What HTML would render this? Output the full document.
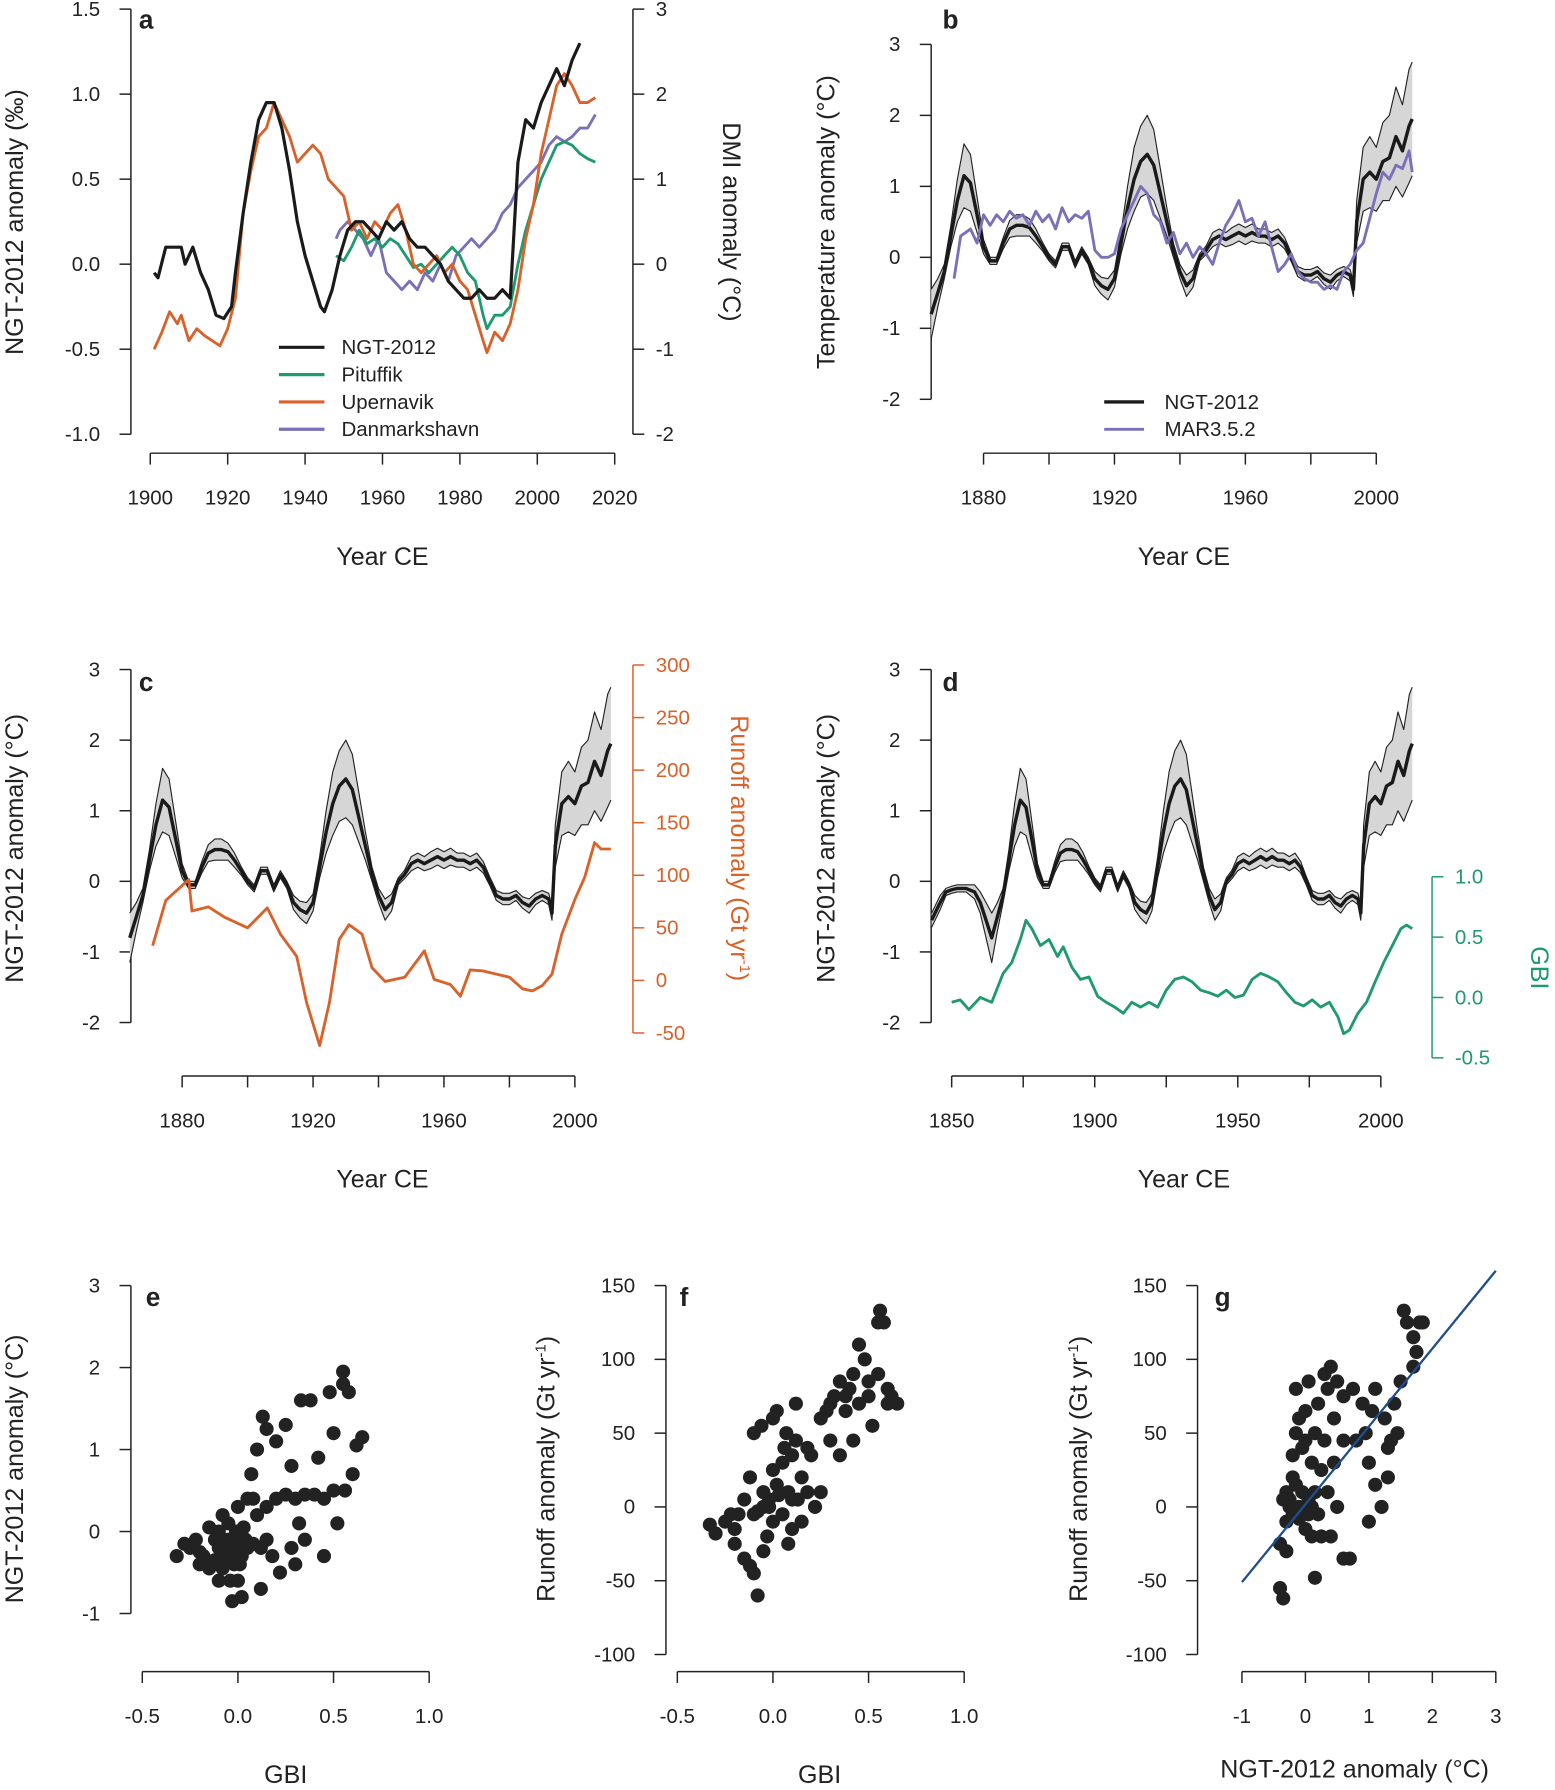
<!DOCTYPE html>
<html><head><meta charset="utf-8"><style>
html,body{margin:0;padding:0;background:#fff}
svg{display:block;font-family:"Liberation Sans",Arial,sans-serif}
</style></head><body>
<svg id="fig" width="1555" height="1790" viewBox="0 0 1366 1572" preserveAspectRatio="none" xmlns="http://www.w3.org/2000/svg"></svg>
<script>
// ---------- DATA ----------
const ngtYears=[1843,1846,1848,1850,1852,1855,1858,1860,1862,1864,1866,1868,1870,1872,1874,1876,1878,1880,1882,1884,1886,1888,1890,1892,1894,1896,1898,1900,1902,1904,1906,1908,1910,1912,1914,1916,1918,1920,1922,1924,1926,1928,1930,1932,1934,1936,1938,1940,1942,1944,1946,1948,1950,1952,1954,1956,1958,1960,1962,1964,1966,1968,1970,1972,1974,1976,1978,1980,1982,1984,1986,1988,1990,1992,1993,1994,1996,1998,2000,2002,2004,2006,2008,2010,2011];
const ngtTemp=[-0.55,-0.3,-0.15,-0.12,-0.1,-0.1,-0.15,-0.3,-0.55,-0.8,-0.5,-0.2,0.3,0.8,1.15,1.05,0.6,0.15,-0.05,-0.05,0.2,0.4,0.45,0.45,0.42,0.3,0.15,0.0,-0.1,0.15,0.15,-0.1,0.1,-0.05,-0.3,-0.4,-0.45,-0.3,0.2,0.7,1.1,1.35,1.45,1.3,0.9,0.5,0.1,-0.2,-0.4,-0.3,0.0,0.1,0.25,0.3,0.25,0.3,0.35,0.3,0.35,0.3,0.3,0.25,0.3,0.2,0.0,-0.2,-0.25,-0.25,-0.2,-0.3,-0.35,-0.25,-0.2,-0.25,-0.45,0.5,1.1,1.2,1.1,1.35,1.4,1.7,1.5,1.85,1.95];
const ngtHalfWidth=[0.1,0.1,0.05,0.05,0.05,0.05,0.1,0.15,0.25,0.35,0.2,0.1,0.15,0.3,0.45,0.4,0.25,0.1,0.05,0.05,0.08,0.12,0.15,0.15,0.12,0.1,0.06,0.05,0.05,0.05,0.05,0.05,0.05,0.05,0.1,0.12,0.15,0.12,0.15,0.3,0.45,0.5,0.55,0.5,0.35,0.2,0.1,0.1,0.15,0.12,0.05,0.06,0.1,0.1,0.1,0.12,0.12,0.12,0.12,0.1,0.1,0.1,0.1,0.08,0.06,0.07,0.08,0.08,0.07,0.08,0.1,0.08,0.07,0.08,0.1,0.3,0.45,0.5,0.45,0.55,0.6,0.7,0.65,0.8,0.8];

const marYears=[1871,1873,1876,1878,1880,1882,1884,1886,1888,1890,1892,1894,1896,1898,1900,1902,1904,1906,1908,1910,1912,1914,1916,1918,1920,1922,1924,1926,1928,1930,1932,1934,1936,1938,1940,1942,1944,1946,1948,1950,1952,1954,1956,1958,1960,1962,1964,1966,1968,1970,1972,1974,1976,1978,1980,1982,1984,1986,1988,1990,1992,1994,1996,1998,2000,2002,2004,2006,2008,2010,2011];
const marTemp=[-0.3,0.3,0.4,0.2,0.6,0.45,0.6,0.5,0.65,0.55,0.6,0.45,0.65,0.5,0.6,0.4,0.7,0.5,0.6,0.55,0.65,0.1,0.0,0.0,0.05,0.4,0.6,0.8,1.0,0.9,0.6,0.5,0.2,0.35,0.05,0.2,0.0,0.15,0.05,-0.1,0.2,0.45,0.6,0.8,0.5,0.55,0.3,0.5,0.15,-0.2,-0.1,0.05,-0.2,-0.3,-0.35,-0.35,-0.45,-0.4,-0.45,-0.2,-0.1,0.1,0.2,0.55,0.9,1.2,1.1,1.3,1.25,1.5,1.2];

const runoffYears=[1871,1875,1882,1883,1888,1893,1900,1906,1910,1915,1918,1922,1925,1928,1931,1935,1938,1942,1948,1954,1957,1962,1965,1968,1972,1976,1980,1984,1987,1990,1993,1996,2000,2003,2006,2008,2011];
const runoffVals=[33,76,96,66,70,60,50,69,44,23,-21,-62,-21,39,53,44,12,-1,3,28,1,-4,-15,10,9,6,3,-8,-10,-5,6,44,77,98,131,125,125];

const gbiYears=[1850,1853,1856,1860,1864,1868,1871,1874,1876,1878,1881,1884,1887,1889,1892,1895,1898,1901,1904,1907,1910,1913,1916,1919,1922,1925,1928,1931,1934,1937,1940,1943,1946,1949,1952,1955,1958,1961,1964,1967,1970,1973,1976,1979,1982,1985,1987,1989,1992,1995,1998,2001,2004,2007,2009,2011];
const gbiVals=[-0.04,-0.02,-0.1,0,-0.04,0.2,0.29,0.48,0.64,0.57,0.43,0.48,0.34,0.42,0.25,0.15,0.17,0.01,-0.04,-0.08,-0.13,-0.04,-0.08,-0.04,-0.08,0.06,0.15,0.17,0.13,0.06,0.04,0.01,0.06,0,0.02,0.15,0.2,0.17,0.13,0.04,-0.04,-0.07,-0.02,-0.08,-0.04,-0.16,-0.3,-0.27,-0.13,-0.04,0.13,0.29,0.43,0.57,0.6,0.57];

const ngtAYears=[1901,1902,1904,1906,1908,1909,1911,1913,1915,1917,1919,1921,1922,1924,1926,1928,1930,1932,1934,1936,1938,1940,1942,1944,1945,1947,1949,1951,1953,1955,1957,1959,1961,1963,1965,1967,1969,1971,1973,1975,1977,1979,1981,1983,1985,1987,1989,1991,1993,1995,1997,1999,2001,2003,2005,2007,2009,2011];
const ngtAVals=[-0.05,-0.08,0.1,0.1,0.1,0.0,0.1,-0.05,-0.15,-0.3,-0.32,-0.25,-0.05,0.3,0.6,0.85,0.95,0.95,0.8,0.55,0.25,0.05,-0.1,-0.25,-0.28,-0.15,0.05,0.2,0.25,0.25,0.2,0.15,0.25,0.2,0.25,0.15,0.1,0.1,0.05,0.0,-0.1,-0.15,-0.2,-0.2,-0.15,-0.2,-0.2,-0.15,-0.2,0.6,0.85,0.8,0.95,1.05,1.15,1.05,1.2,1.3];
const upYears=[1901,1903,1905,1907,1908,1910,1912,1914,1916,1918,1920,1922,1924,1926,1928,1930,1932,1934,1936,1938,1940,1942,1944,1946,1948,1950,1952,1954,1956,1958,1960,1962,1964,1966,1968,1970,1972,1974,1976,1978,1980,1982,1984,1986,1987,1989,1991,1993,1995,1997,1999,2001,2003,2005,2007,2009,2011,2013,2015];
const upDMI=[-1.0,-0.8,-0.56,-0.7,-0.6,-0.9,-0.76,-0.84,-0.9,-0.96,-0.76,-0.4,0.6,1.1,1.5,1.6,1.9,1.7,1.5,1.2,1.3,1.4,1.3,1.0,0.9,0.8,0.4,0.5,0.3,0.5,0.4,0.6,0.7,0.4,0.0,-0.1,0.0,0.1,-0.1,0.0,-0.2,-0.3,-0.6,-0.9,-1.04,-0.8,-0.9,-0.7,-0.3,0.3,0.7,1.3,1.7,2.1,2.24,2.1,1.9,1.9,1.96];
const pitYears=[1948,1950,1952,1954,1956,1958,1960,1962,1964,1966,1968,1970,1972,1974,1976,1978,1980,1982,1984,1986,1987,1989,1991,1993,1995,1997,1999,2001,2003,2005,2007,2009,2011,2013,2015];
const pitDMI=[0.1,0.04,0.2,0.4,0.24,0.3,0.2,0.3,0.24,0.1,-0.04,0.0,-0.1,0.0,0.1,0.2,0.1,-0.1,-0.2,-0.6,-0.76,-0.6,-0.6,-0.5,0.0,0.4,0.7,1.0,1.2,1.4,1.44,1.4,1.3,1.24,1.2];
const danYears=[1948,1949,1951,1953,1955,1957,1959,1961,1963,1965,1967,1969,1971,1973,1975,1977,1979,1981,1983,1985,1987,1989,1991,1993,1995,1997,1999,2001,2003,2005,2007,2009,2011,2013,2015];
const danDMI=[0.3,0.4,0.5,0.4,0.3,0.1,0.3,-0.1,-0.2,-0.3,-0.2,-0.3,-0.1,-0.2,0.0,-0.2,0.1,0.2,0.3,0.2,0.3,0.4,0.6,0.7,0.9,1.0,1.1,1.2,1.4,1.5,1.44,1.5,1.6,1.6,1.76];

const eGBI=[-0.32,-0.28,-0.25,-0.2,-0.2,-0.18,-0.15,-0.12,-0.12,-0.1,-0.1,-0.08,-0.08,-0.06,-0.05,-0.05,-0.04,-0.03,-0.02,-0.02,0,0,0.02,0.02,0.03,0.05,0.05,0.07,0.08,0.1,0.1,0.12,0.13,0.15,0.15,0.18,0.2,0.2,0.22,0.25,0.25,0.28,0.28,0.3,0.3,0.32,0.33,0.35,0.35,0.38,0.4,0.42,0.45,0.45,0.48,0.5,0.5,0.52,0.55,0.55,0.58,0.6,0.62,0.65,0.56,0.12,-0.15,0.08,-0.22,0.15,0.0,-0.1,-0.04,-0.02,0.0,0.02,-0.06,-0.03,0.01,-0.01,0.04,-0.05];
const eTemp=[-0.3,-0.15,-0.2,-0.25,-0.4,-0.3,-0.45,-0.1,-0.35,0.0,-0.2,-0.45,0.2,-0.3,-0.1,0.1,-0.6,-0.85,-0.2,-0.4,-0.1,0.3,-0.3,-0.8,0.05,-0.2,0.4,0.7,-0.15,0.2,1.0,-0.7,1.4,1.25,0.3,-0.3,0.4,1.1,-0.5,0.45,1.3,-0.2,0.8,0.4,-0.4,0.1,1.6,0.45,-0.1,1.6,0.45,0.9,0.4,-0.3,1.7,0.5,1.2,0.1,1.8,1.95,1.7,0.7,1.05,1.15,0.5,-0.2,0.05,0.4,-0.1,-0.1,-0.6,-0.6,-0.3,-0.15,-0.25,-0.05,-0.2,-0.35,-0.4,0.0,-0.1,-0.25];
const fGBI=[-0.33,-0.3,-0.25,-0.22,-0.2,-0.18,-0.15,-0.15,-0.12,-0.1,-0.08,-0.1,-0.06,-0.05,-0.05,-0.03,-0.02,0,0,0.02,0.02,0.05,0.05,0.07,0.08,0.1,0.1,0.12,0.13,0.15,0.15,0.18,0.2,0.22,0.25,0.25,0.28,0.3,0.32,0.35,0.35,0.38,0.4,0.42,0.42,0.45,0.48,0.5,0.5,0.52,0.55,0.55,0.56,0.58,0.6,0.62,0.65,0.6,-0.2,-0.1,0.0,0.06,0.08,-0.05,0.18,0.3,0.38,0.45,0.12,-0.12,-0.02,0.03,-0.08,0.1];
const fRunoff=[-12,-18,-10,-5,-15,-5,5,-35,-40,-45,-60,50,55,0,10,-20,5,60,-10,65,15,-5,30,50,10,-15,35,45,5,20,-10,40,35,0,10,60,65,70,75,85,35,65,80,90,45,110,100,75,85,55,90,125,133,125,70,75,70,80,-25,-5,25,40,-25,-30,10,45,75,70,70,20,0,8,-3,5];
const gTemp=[-0.4,-0.4,-0.35,-0.3,-0.3,-0.25,-0.2,-0.2,-0.15,-0.15,-0.1,-0.1,-0.05,-0.05,0,0,0.05,0.05,0.1,0.1,0.15,0.15,0.2,0.2,0.25,0.3,0.3,0.35,0.4,0.4,0.45,0.5,0.5,0.6,0.6,0.7,0.75,0.8,0.9,0.95,1.0,1.05,1.1,1.1,1.2,1.25,1.3,1.35,1.4,1.45,1.5,1.55,1.6,1.7,1.75,1.8,1.85,1.7,-0.3,0.05,-0.2,0.15,0.25,0.45,1.0,1.3,0.6,-0.35,0.35,0.0,-0.25,-0.1,0.1,-0.15];
const gRunoff=[-25,-55,-62,-10,10,0,-5,20,50,80,60,0,10,40,65,-15,85,5,30,-20,-48,50,70,-5,25,45,90,80,95,-20,60,0,85,45,-35,-35,80,45,70,50,-10,65,80,15,0,60,40,45,70,50,85,133,125,115,105,125,125,95,-30,-5,35,10,-20,30,30,20,75,5,10,45,5,-8,0,15];
const gFitX=[-1,3];
const gFitY=[-51,160];

// ---------- HELPERS ----------
const NS="http://www.w3.org/2000/svg";
const svg=document.getElementById('fig');
function el(tag,attrs,parent){const e=document.createElementNS(NS,tag);for(const k in attrs)e.setAttribute(k,attrs[k]);(parent||svg).appendChild(e);return e;}
function lin(d0,d1,p0,p1){return v=>p0+(v-d0)*(p1-p0)/(d1-d0);}
function txt(s,x,y,o,name){const t=el('text',Object.assign({x:x,y:y,'font-size':18,fill:'#222'},o||{}));t.textContent=s;


return t;}
function pathD(xs,ys,sx,sy,filt){let d='';let first=true;for(let i=0;i<xs.length;i++){if(filt&&!filt(xs[i]))continue;d+=(first?'M':'L')+sx(xs[i]).toFixed(1)+' '+sy(ys[i]).toFixed(1);first=false;}return d;}
function series(xs,ys,sx,sy,color,w,name,filt){const p=el('path',{d:pathD(xs,ys,sx,sy,filt),fill:'none',stroke:color,'stroke-width':w,'stroke-linejoin':'round'});


return p;}
function yAxis(x,ticks,labels,sy,side,color,name){const g=el('g',{});


const c=color||'#222';el('line',{x1:x,x2:x,y1:sy(ticks[0]),y2:sy(ticks[ticks.length-1]),stroke:c,'stroke-width':1.3},g);
ticks.forEach((t,i)=>{const y=sy(t);const dx=side==='left'?-10:10;el('line',{x1:x,x2:x+dx,y1:y,y2:y,stroke:c,'stroke-width':1.3},g);
const tt=txt(labels[i],side==='left'?x-27:x+20,y+6,{'text-anchor':side==='left'?'end':'start',fill:c},'tick-label');g.appendChild(tt);});return g;}
function xAxis(y,ticks,labels,sx,name){const g=el('g',{});


el('line',{x1:sx(ticks[0]),x2:sx(ticks[ticks.length-1]),y1:y,y2:y,stroke:'#222','stroke-width':1.3},g);
ticks.forEach((t,i)=>{const x=sx(t);el('line',{x1:x,x2:x,y1:y,y2:y+10,stroke:'#222','stroke-width':1.3},g);if(labels[i]!=='')g.appendChild(txt(labels[i],x,y+45,{'text-anchor':'middle'},'tick-label'));});return g;}
function vtitle(s,x,y,rot,color,name){const t=txt('',x,y,{'font-size':22,'text-anchor':'middle',fill:color||'#222',transform:`rotate(${rot} ${x} ${y})`},name);t.innerHTML=s;return t;}
function band(xs,ys,hw,sx,sy,filt,name){const idx=xs.map((_,i)=>i).filter(i=>!filt||filt(xs[i]));
let d='';idx.forEach((i,k)=>{d+=(k?'L':'M')+sx(xs[i]).toFixed(1)+' '+sy(ys[i]+hw[i]).toFixed(1);});
idx.slice().reverse().forEach(i=>{d+='L'+sx(xs[i]).toFixed(1)+' '+sy(ys[i]-hw[i]).toFixed(1);});d+='Z';
const p=el('path',{d:d,fill:'#d6d6d6',stroke:'none'});


const hi=ys.map((v,i)=>v+hw[i]),lo=ys.map((v,i)=>v-hw[i]);
series(xs,hi,sx,sy,'#222',1,name+'-upper',filt);series(xs,lo,sx,sy,'#222',1,name+'-lower',filt);
series(xs,ys,sx,sy,'#1a1a1a',3,name+'-mean',filt);}
function dots(xs,ys,sx,sy,name){xs.forEach((x,i)=>{const c=el('circle',{cx:sx(x),cy:sy(ys[i]),r:6.2,fill:'#222'});

});}
function letter(s,x,y){txt(s,x,y,{'font-size':23,'font-weight':'bold'},'panel-letter-'+s);}

// ---------- PANEL A ----------
{const sx=lin(1900,2020,132,540),sy=lin(0,1.5,232,8),sr=lin(0,3,232,8);
yAxis(115,[-1,-0.5,0,0.5,1,1.5],['-1.0','-0.5','0.0','0.5','1.0','1.5'],sy,'left',null,'a-y-axis');
yAxis(556,[-2,-1,0,1,2,3],['-2','-1','0','1','2','3'],sr,'right',null,'a-dmi-axis');
xAxis(398,[1900,1920,1940,1960,1980,2000,2020],['1900','1920','1940','1960','1980','2000','2020'],sx,'a-x-axis');
series(danYears,danDMI,sx,sr,'#7b70b8',2.5,'danmarkshavn-line');
series(pitYears,pitDMI,sx,sr,'#1f9a70',2.5,'pituffik-line');
series(upYears,upDMI,sx,sr,'#d9622b',2.5,'upernavik-line');
series(ngtAYears,ngtAVals,sx,sy,'#1a1a1a',2.8,'ngt2012-line');
letter('a',122,25);
vtitle('NGT-2012 anomaly (‰)',20,195,-90,null,'a-y-title');
vtitle('DMI anomaly (°C)',635,195,90,null,'a-dmi-title');
txt('Year CE',336,496,{'font-size':22,'text-anchor':'middle'},'a-x-title');
[['NGT-2012','#1a1a1a'],['Pituffik','#1f9a70'],['Upernavik','#d9622b'],['Danmarkshavn','#7b70b8']].forEach((l,i)=>{const y=305+i*24;
const ln=el('line',{x1:245,x2:285,y1:y,y2:y,stroke:l[1],'stroke-width':2.8});


txt(l[0],300,y+6,{},'legend-label');});}

// ---------- PANEL B ----------
{const sx=lin(1880,2000,864,1209),sy=lin(0,3,226,39);const f=y=>y>=1864;
yAxis(818,[-2,-1,0,1,2,3],['-2','-1','0','1','2','3'],sy,'left',null,'b-y-axis');
xAxis(398,[1880,1900,1920,1940,1960,1980,2000],['1880','','1920','','1960','','2000'],sx,'b-x-axis');
band(ngtYears,ngtTemp,ngtHalfWidth,sx,sy,f,'b-ngt2012');
series(marYears,marTemp,sx,sy,'#7b70b8',2.5,'mar352-line');
letter('b',828,25);
vtitle('Temperature anomaly (°C)',733,195,-90,null,'b-y-title');
txt('Year CE',1040,496,{'font-size':22,'text-anchor':'middle'},'b-x-title');
[['NGT-2012','#1a1a1a',3],['MAR3.5.2','#7b70b8',2.5]].forEach((l,i)=>{const y=353+i*24;
const ln=el('line',{x1:970,x2:1005,y1:y,y2:y,stroke:l[1],'stroke-width':l[2]});


txt(l[0],1023,y+6,{},'legend-label');});}

// ---------- PANEL C ----------
{const sx=lin(1880,2000,160,505),sy=lin(0,3,774,588),sr=lin(0,300,861,584);const f=y=>y>=1864;
yAxis(115,[-2,-1,0,1,2,3],['-2','-1','0','1','2','3'],sy,'left',null,'c-y-axis');
yAxis(556,[-50,0,50,100,150,200,250,300],['-50','0','50','100','150','200','250','300'],sr,'right','#d9622b','c-runoff-axis');
xAxis(945,[1880,1900,1920,1940,1960,1980,2000],['1880','','1920','','1960','','2000'],sx,'c-x-axis');
band(ngtYears,ngtTemp,ngtHalfWidth,sx,sy,f,'c-ngt2012');
series(runoffYears,runoffVals,sx,sr,'#d9622b',2.5,'runoff-line');
letter('c',122,607);
vtitle('NGT-2012 anomaly (°C)',20,745,-90,null,'c-y-title');
vtitle('Runoff anomaly (Gt yr<tspan font-size="13" dy="-8">-1</tspan><tspan dy="8">)</tspan>',642,745,90,'#d9622b','c-runoff-title');
txt('Year CE',336,1043,{'font-size':22,'text-anchor':'middle'},'c-x-title');}

// ---------- PANEL D ----------
{const sx=lin(1850,2000,836,1213),sy=lin(0,3,774,588),sg=lin(0,1,876,770);
yAxis(818,[-2,-1,0,1,2,3],['-2','-1','0','1','2','3'],sy,'left',null,'d-y-axis');
yAxis(1258,[-0.5,0,0.5,1],['-0.5','0.0','0.5','1.0'],sg,'right','#1f9a70','d-gbi-axis');
xAxis(945,[1850,1875,1900,1925,1950,1975,2000],['1850','','1900','','1950','','2000'],sx,'d-x-axis');
band(ngtYears,ngtTemp,ngtHalfWidth,sx,sy,null,'d-ngt2012');
series(gbiYears,gbiVals,sx,sg,'#1f9a70',2.5,'gbi-line');
letter('d',828,607);
vtitle('NGT-2012 anomaly (°C)',733,745,-90,null,'d-y-title');
vtitle('GBI',1345,850,90,'#1f9a70','d-gbi-title');
txt('Year CE',1040,1043,{'font-size':22,'text-anchor':'middle'},'d-x-title');}

// ---------- PANEL E ----------
{const sx=lin(-0.5,1,125,377),sy=lin(-1,3,1417,1129);
yAxis(115,[-1,0,1,2,3],['-1','0','1','2','3'],sy,'left',null,'e-y-axis');
xAxis(1468,[-0.5,0,0.5,1],['-0.5','0.0','0.5','1.0'],sx,'e-x-axis');
dots(eGBI,eTemp,sx,sy,'e-point');
letter('e',128,1147);
vtitle('NGT-2012 anomaly (°C)',20,1290,-90,null,'e-y-title');
txt('GBI',251,1566,{'font-size':22,'text-anchor':'middle'},'e-x-title');}

// ---------- PANEL F ----------
{const sx=lin(-0.5,1,595,847),sy=lin(-100,150,1453,1129);
yAxis(585,[-100,-50,0,50,100,150],['-100','-50','0','50','100','150'],sy,'left',null,'f-y-axis');
xAxis(1468,[-0.5,0,0.5,1],['-0.5','0.0','0.5','1.0'],sx,'f-x-axis');
dots(fGBI,fRunoff,sx,sy,'f-point');
letter('f',597,1147);
vtitle('Runoff anomaly (Gt yr<tspan font-size="13" dy="-8">-1</tspan><tspan dy="8">)</tspan>',487,1290,-90,null,'f-y-title');
txt('GBI',720,1566,{'font-size':22,'text-anchor':'middle'},'f-x-title');}

// ---------- PANEL G ----------
{const sx=lin(-1,3,1091,1314),sy=lin(-100,150,1453,1129);
yAxis(1052,[-100,-50,0,50,100,150],['-100','-50','0','50','100','150'],sy,'left',null,'g-y-axis');
xAxis(1468,[-1,0,1,2,3],['-1','0','1','2','3'],sx,'g-x-axis');
dots(gTemp,gRunoff,sx,sy,'g-point');
series(gFitX,gFitY,sx,sy,'#1f4e8c',2,'g-regression-line');
letter('g',1067,1147);
vtitle('Runoff anomaly (Gt yr<tspan font-size="13" dy="-8">-1</tspan><tspan dy="8">)</tspan>',955,1290,-90,null,'g-y-title');
txt('NGT-2012 anomaly (°C)',1190,1561,{'font-size':22,'text-anchor':'middle'},'g-x-title');}
</script>
</body></html>
